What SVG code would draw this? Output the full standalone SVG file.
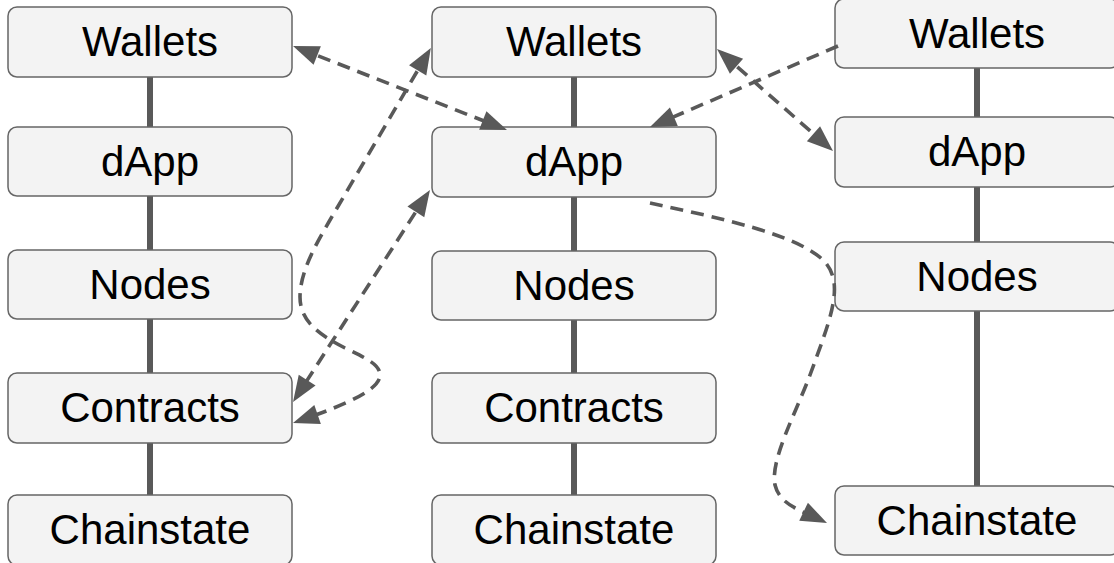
<svg xmlns="http://www.w3.org/2000/svg" width="1114" height="563" viewBox="0 0 1114 563">
<style>
.box{fill:#f3f3f3;stroke:#666666;stroke-width:1.5}
.lbl{font-family:"Liberation Sans",Arial,sans-serif;font-size:42px;fill:#000;text-anchor:middle}
.solid{stroke:#595959;stroke-width:6;fill:none}
.dash{stroke:#595959;stroke-width:3.6;fill:none;stroke-dasharray:13 8}
</style>
<defs>
<marker id="ah" viewBox="0 0 26 20" markerUnits="userSpaceOnUse" markerWidth="26" markerHeight="20" refX="20" refY="10" orient="auto-start-reverse" overflow="visible">
<path d="M0,0 L26,10 L0,20 z" fill="#595959"/>
</marker>
</defs>
<g id="stacks">
<line class="solid" x1="150" y1="77" x2="150" y2="127"/>
<line class="solid" x1="150" y1="196" x2="150" y2="250"/>
<line class="solid" x1="150" y1="319" x2="150" y2="373"/>
<line class="solid" x1="150" y1="443" x2="150" y2="495"/>
<line class="solid" x1="574" y1="77" x2="574" y2="127"/>
<line class="solid" x1="574" y1="197" x2="574" y2="251"/>
<line class="solid" x1="574" y1="320" x2="574" y2="373"/>
<line class="solid" x1="574" y1="443" x2="574" y2="495"/>
<line class="solid" x1="977" y1="68" x2="977" y2="117"/>
<line class="solid" x1="977" y1="187" x2="977" y2="242"/>
<line class="solid" x1="977" y1="311" x2="977" y2="486"/>
</g>
<g id="n1-wallets"><rect class="box" x="8" y="7" width="284" height="70" rx="9"/><text class="lbl" x="150" y="56">Wallets</text></g>
<g id="n1-dapp"><rect class="box" x="8" y="127" width="284" height="69" rx="9"/><text class="lbl" x="150" y="176">dApp</text></g>
<g id="n1-nodes"><rect class="box" x="8" y="250" width="284" height="69" rx="9"/><text class="lbl" x="150" y="299">Nodes</text></g>
<g id="n1-contracts"><rect class="box" x="8" y="373" width="284" height="70" rx="9"/><text class="lbl" x="150" y="422">Contracts</text></g>
<g id="n1-chainstate"><rect class="box" x="8" y="495" width="284" height="70" rx="9"/><text class="lbl" x="150" y="544">Chainstate</text></g>
<g id="n2-wallets"><rect class="box" x="432" y="7" width="284" height="70" rx="9"/><text class="lbl" x="574" y="56">Wallets</text></g>
<g id="n2-dapp"><rect class="box" x="432" y="127" width="284" height="70" rx="9"/><text class="lbl" x="574" y="176">dApp</text></g>
<g id="n2-nodes"><rect class="box" x="432" y="251" width="284" height="69" rx="9"/><text class="lbl" x="574" y="300">Nodes</text></g>
<g id="n2-contracts"><rect class="box" x="432" y="373" width="284" height="70" rx="9"/><text class="lbl" x="574" y="422">Contracts</text></g>
<g id="n2-chainstate"><rect class="box" x="432" y="495" width="284" height="70" rx="9"/><text class="lbl" x="574" y="544">Chainstate</text></g>
<g id="n3-wallets"><rect class="box" x="835" y="-1" width="284" height="69" rx="9"/><text class="lbl" x="977" y="48">Wallets</text></g>
<g id="n3-dapp"><rect class="box" x="835" y="117" width="284" height="70" rx="9"/><text class="lbl" x="977" y="166">dApp</text></g>
<g id="n3-nodes"><rect class="box" x="835" y="242" width="284" height="69" rx="9"/><text class="lbl" x="977" y="291">Nodes</text></g>
<g id="n3-chainstate"><rect class="box" x="835" y="486" width="284" height="69" rx="9"/><text class="lbl" x="977" y="535">Chainstate</text></g>
<g id="connectors">
<path class="dash" d="M298.6,48.2 L501.4,127.8" marker-start="url(#ah)" marker-end="url(#ah)"/>
<path class="dash" d="M427.8,53.1 L330,220 C316,244 300,272 300,297 C300,322 320,335 345,348 C365,358 380,364 380,375 C380,390 345,405 298.7,421" marker-start="url(#ah)" marker-end="url(#ah)"/>
<path class="dash" d="M426.7,195 L296.3,397" marker-start="url(#ah)" marker-end="url(#ah)"/>
<path class="dash" d="M838,46 L655.5,124.7" marker-end="url(#ah)"/>
<path class="dash" d="M721.5,53 L828.5,147" marker-start="url(#ah)" marker-end="url(#ah)"/>
<path class="dash" d="M650,203 C720,218 800,235 825,262 C845,285 830,320 810,375 C795,415 770,460 775,485 C780,505 800,510 821.6,520.4" marker-end="url(#ah)"/>
</g>
</svg>
